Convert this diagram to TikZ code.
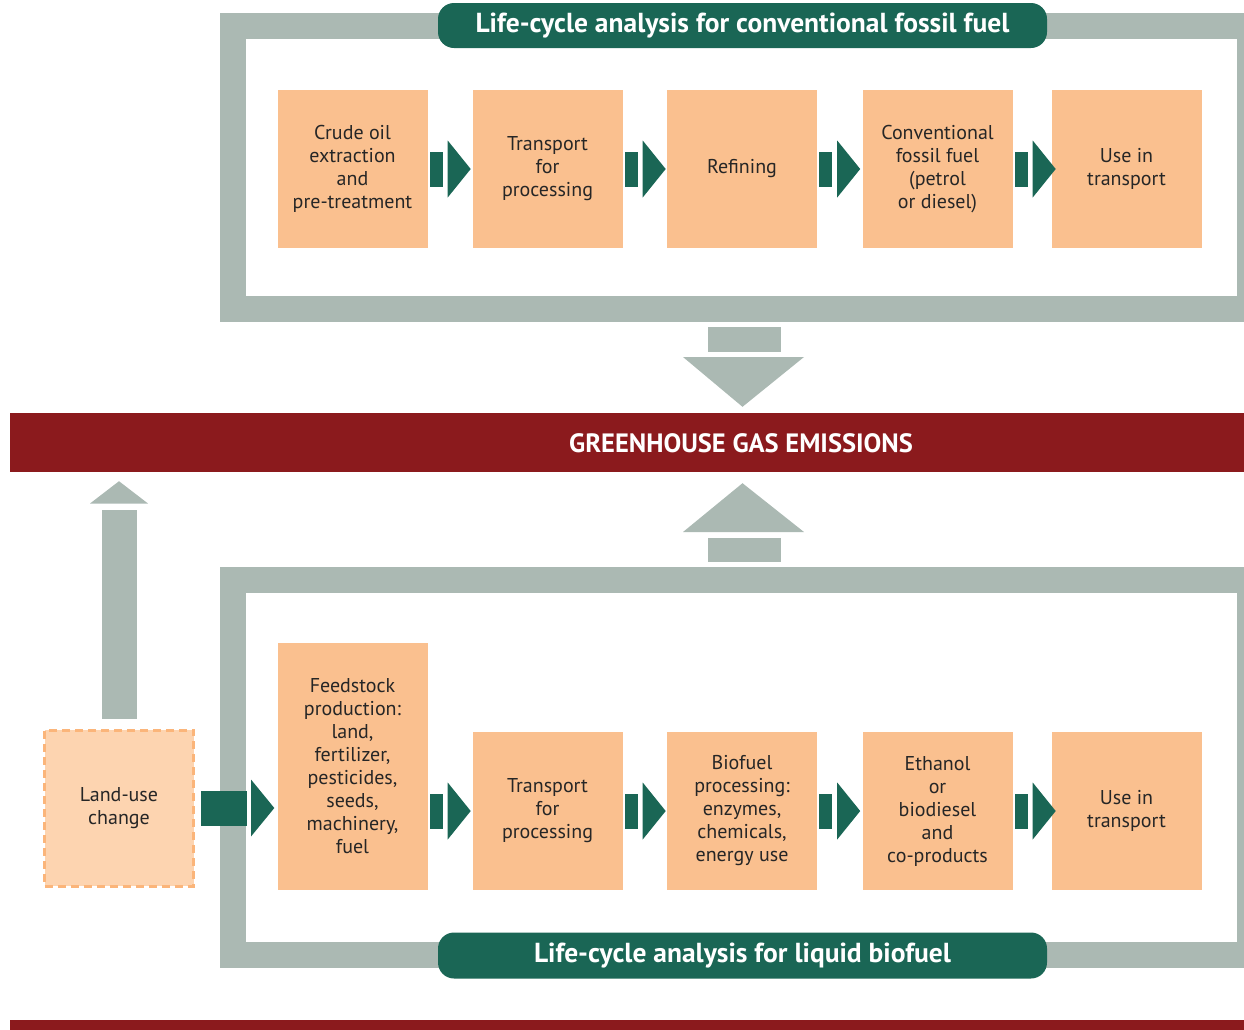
\documentclass[tikz,border=0pt]{standalone}
\usepackage{fontspec}
\setmainfont{PT Sans}
\usepackage{tikz}
\usetikzlibrary{calc,positioning,shapes}

\definecolor{boxpeach}{HTML}{FAC08F}
\definecolor{luclight}{HTML}{FDD4B0}
\definecolor{lucedge}{HTML}{FBB57A}
\definecolor{lcagreen}{HTML}{1A6655}
\definecolor{framegray}{HTML}{ABB9B3}
\definecolor{ghgred}{HTML}{8B1A1D}

% green block arrow from one stage to the next
\newcommand{\stageflow}[2]{%
\fill[lcagreen] ($(#1.east |- #2.west)+(2,-17.5)$) rectangle ($(#1.east |- #2.west)+(15,17.5)$);
\fill[lcagreen] ($(#1.east |- #2.west)+(20,-28.5)$) -- ($(#1.east |- #2.west)+(20,28.5)$) -- ($(#1.east |- #2.west)+(43,0)$) -- cycle;
}

\begin{document}
\begin{tikzpicture}[x=1pt, y=-1pt,
  stage/.style={fill=boxpeach, minimum width=150pt, minimum height=158pt, inner sep=0pt, align=center, text=black!85, font=\fontsize{20}{23}\selectfont},
  pill/.style={fill=lcagreen, rounded corners=16pt, minimum width=609pt, minimum height=45pt, text=white, font=\fontsize{27.5}{30}\selectfont\bfseries}]
\useasboundingbox (0,0) rectangle (1244,1029);
\clip (0,0) rectangle (1244,1029);
\tikzstyle{frame}=[draw=framegray, line width=26pt]

% the two analysis frames
\draw[frame] (233,26) rectangle (1250,308.5);
\draw[frame] (233,580) rectangle (1250,955);

\node[pill] (fossiltitle) at (742.5,25.5) {Life-cycle analysis for conventional fossil fuel};
\node[pill, minimum height=46pt] (biotitle) at (742.5,955.5) {Life-cycle analysis for liquid biofuel};

% greenhouse gas band
\node[fill=ghgred, minimum width=1234pt, minimum height=59pt, inner sep=0pt] (ghg) at (627,442.5) {};
\node[text=white, font=\fontsize{26.5}{30}\selectfont\bfseries] (ghglabel) at (741,443) {GREENHOUSE GAS EMISSIONS};
\fill[ghgred] (10,1020) rectangle (1250,1040);

% fossil fuel chain
\node[stage] (f1) at (352.5,169) {Crude oil\\extraction\\and\\pre-treatment};
\node[stage] (f2) at (547.5,169) {Transport\\for\\processing};
\node[stage] (f3) at (742,169) {Refining};
\node[stage] (f4) at (937.5,169) {Conventional\\fossil fuel\\(petrol\\or diesel)};
\node[stage] (f5) at (1126.5,169) {Use in\\transport};

% biofuel chain
\node[stage, minimum height=247pt] (b1) at (352.5,766.5) {Feedstock\\production:\\land,\\fertilizer,\\pesticides,\\seeds,\\machinery,\\fuel};
\node[stage] (b2) at (547.5,811) {Transport\\for\\processing};
\node[stage] (b3) at (742,811) {Biofuel\\processing:\\enzymes,\\chemicals,\\energy use};
\node[stage] (b4) at (937.5,811) {Ethanol\\or\\biodiesel\\and\\co-products};
\node[stage] (b5) at (1126.5,811) {Use in\\transport};

\node[stage, fill=luclight, draw=lucedge, line width=3pt, dash pattern=on 8pt off 5pt, minimum width=149pt, minimum height=156pt] (luc) at (119,808) {Land-use\\change};

\foreach \i/\j in {1/2, 2/3, 3/4, 4/5}{
\stageflow{f\i}{f\j}
\stageflow{b\i}{b\j}
}

% land-use change into feedstock production
\fill[lcagreen] ($(luc.east)+(6,-17.5)$) rectangle ($(luc.east)+(52,17.5)$);
\fill[lcagreen] ($(luc.east)+(56,-28.5)$) -- ($(luc.east)+(56,28.5)$) -- ($(luc.east -| b1.west)+(-3,0)$) -- cycle;

% grey arrows to the emissions band
\fill[framegray] (708,327) rectangle (781,352);
\fill[framegray] (683,357) -- (804,357) -- ($(ghg.north -| fossiltitle)+(0,-6)$) -- cycle;
\fill[framegray] (708,538) rectangle (781,562);
\fill[framegray] (683,532) -- (804,532) -- ($(ghg.south -| fossiltitle)+(0,11)$) -- cycle;
\fill[framegray] ($(luc.north)+(-17,-10)$) rectangle ($(luc.north)+(18,-219)$);
\fill[framegray] ($(luc.north)+(-29,-225)$) -- ($(luc.north)+(29,-225)$) -- ($(ghg.south -| luc.north)+(0,9)$) -- cycle;
\end{tikzpicture}
\end{document}
